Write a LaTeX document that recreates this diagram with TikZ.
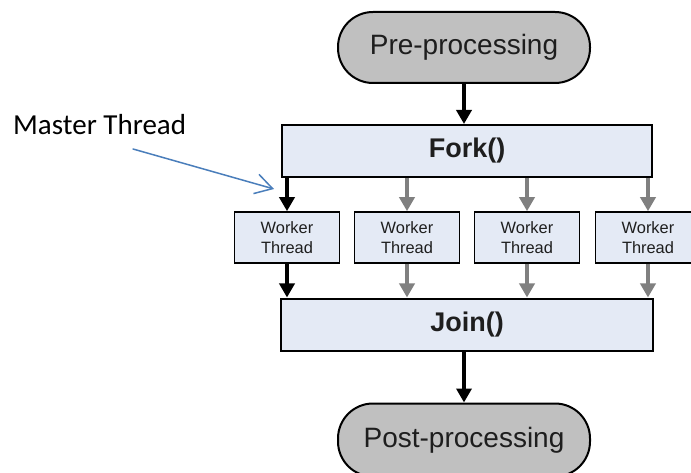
\documentclass[tikz,border=0pt]{standalone}
\usepackage{fontspec}
\setmainfont{Liberation Sans}
\newfontfamily\calibrifont{Carlito}
\usetikzlibrary{arrows.meta}

\definecolor{boxblue}{RGB}{228,234,245}
\definecolor{termgrey}{RGB}{192,192,192}
\definecolor{flowgrey}{RGB}{128,128,128}
\definecolor{txtdark}{RGB}{30,30,30}
\definecolor{noteblue}{RGB}{74,126,187}

\tikzset{
  terminal/.style={draw=black, line width=2pt, fill=termgrey, rounded corners=35pt,
    minimum width=252pt, minimum height=71pt, inner sep=0pt, text=txtdark,
    font=\fontsize{28}{30}\selectfont},
  barbox/.style={draw=black, line width=2pt, fill=boxblue, minimum height=52pt,
    inner sep=0pt, text=txtdark, font=\fontsize{27}{30}\selectfont\bfseries},
  workerbox/.style={draw=black, line width=1.6pt, fill=boxblue, minimum width=105pt,
    minimum height=51pt, inner sep=0pt, align=center, text=txtdark,
    font=\fontsize{16.4}{20}\selectfont},
  mainflow/.style={draw=black, line width=4pt, -{Triangle[width=15pt,length=14pt]}},
  sideflow/.style={draw=flowgrey, line width=4pt, -{Triangle[width=15pt,length=14pt]}},
  note/.style={font=\calibrifont\fontsize{29}{32}\selectfont, text=black, inner sep=0pt},
  pointer/.style={draw=noteblue, line width=1.5pt, line cap=round,
    -{Straight Barb[length=17pt,width=20pt,line width=1.5pt]}}
}

\begin{document}
\begin{tikzpicture}[x=1pt,y=-1pt]
  \fill[white] (0,0) rectangle (691,473);
  \useasboundingbox (0,0) rectangle (691,473);
  \clip (0,0) rectangle (691,473);

  % start and end terminals
  \node[terminal] (pre) at (464,47.5) {Pre-processing};
  \node[terminal, minimum height=73pt] (post) at (464,440)
    {\raisebox{2pt}{Post-processing}};

  % fork and join bars
  \node[barbox, minimum width=370pt] (fork) at (467,151) {Fork()};
  \node[barbox, minimum width=372pt] (join) at (467,324.5) {Join()};

  % worker threads
  \node[workerbox] (w1) at (287,237.5) {Worker\\Thread};
  \node[workerbox] (w2) at (407,237.5) {Worker\\Thread};
  \node[workerbox] (w3) at (527,237.5) {Worker\\Thread};
  \node[workerbox] (w4) at (648,237.5) {Worker\\Thread};

  % flow arrows
  \draw[mainflow] (pre.south) -- (pre.south |- fork.north);
  \draw[mainflow] (w1.north |- fork.south) -- (w1.north);
  \draw[sideflow] (w2.north |- fork.south) -- (w2.north);
  \draw[sideflow] (w3.north |- fork.south) -- (w3.north);
  \draw[sideflow] (w4.north |- fork.south) -- (w4.north);
  \draw[mainflow] (w1.south) -- (w1.south |- join.north);
  \draw[sideflow] (w2.south) -- (w2.south |- join.north);
  \draw[sideflow] (w3.south) -- (w3.south |- join.north);
  \draw[sideflow] (w4.south) -- (w4.south |- join.north);
  \draw[mainflow] (join.south -| post.north) -- (post.north);

  % master thread annotation
  \node[note, anchor=base west] (master) at (13,135) {Master Thread};
  \coordinate (mtail) at (133,149);
  \coordinate (mtip) at (274,189);
  \draw[pointer] (mtail) -- (mtip);
\end{tikzpicture}
\end{document}
